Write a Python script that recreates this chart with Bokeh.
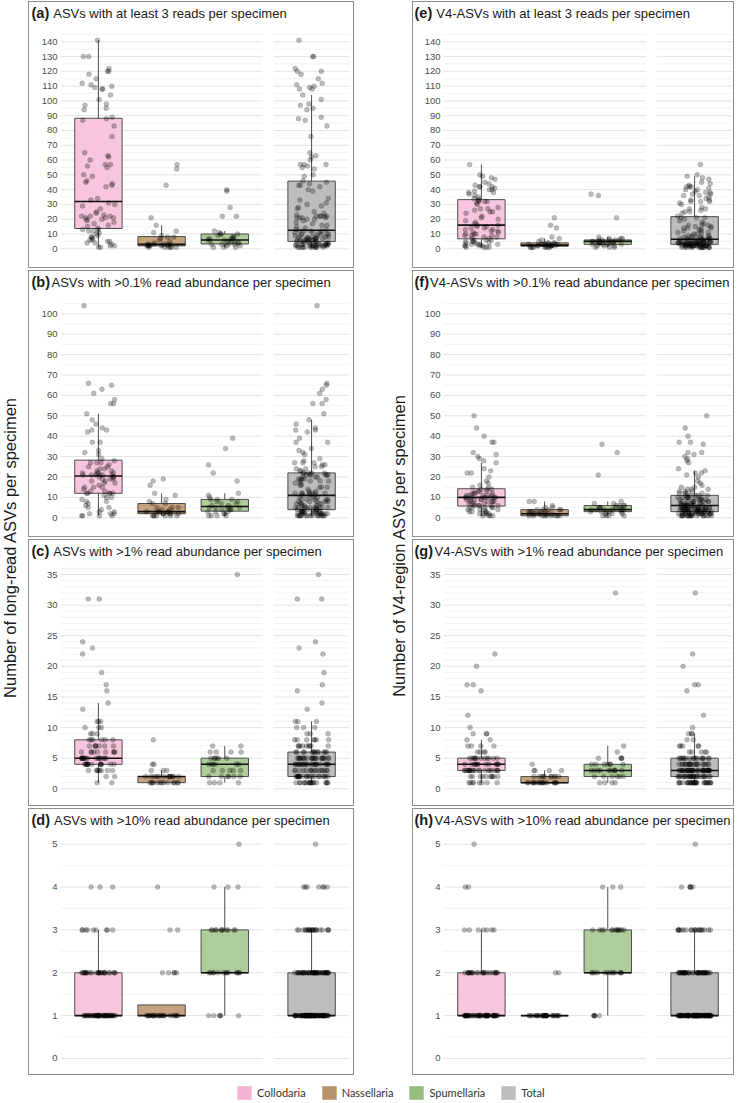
import numpy as np
from bokeh.plotting import figure
from bokeh.models import (ColumnDataSource, Range1d, FixedTicker, Label,
                          Legend, LegendItem, Spacer, Div)
from bokeh.layouts import row, column
from bokeh.transform import jitter
from bokeh.core.properties import value
from bokeh.embed import file_html
from bokeh.resources import INLINE

CATEGORIES = ["Collodaria", "Nassellaria", "Spumellaria", "Total"]

# ---------------- data (number of ASVs per specimen) ----------------
a_collodaria = [1, 1, 2, 2, 3, 4, 4, 5, 5, 6, 6, 7, 8, 8, 9, 10, 11, 12, 12, 13, 13,
                14, 15, 16, 17, 18, 19, 20, 20, 21, 21, 21, 22, 22, 22, 23, 24, 25, 27, 29, 30, 31,
                33, 34, 42, 43, 44, 45, 46, 49, 50, 55, 56, 57, 57, 60, 62, 63, 65, 76, 83, 87, 88,
                89, 94, 95, 97, 98, 101, 104, 108, 108, 109, 110, 111, 112, 115, 118, 120, 120, 122, 130, 130, 141]
a_nassellaria = [1, 1, 1, 1, 1, 1, 2, 2, 2, 2, 2, 2, 3, 3, 3, 3, 3, 3, 4, 5, 6, 7, 8, 8, 9, 11, 12, 16, 21, 43, 54, 57]
a_spumellaria = [1, 1, 1, 2, 2, 3, 3, 3, 3, 4, 4, 5, 5, 5, 6, 6, 6, 6, 7, 7, 7, 8, 8, 9, 10, 10, 10, 11, 12, 22, 22, 28, 39, 40]

b_collodaria = [1, 1, 1, 1, 2, 2, 2, 3, 3, 4, 5, 5, 6, 7, 8, 8, 9, 10, 10, 11, 12,
                12, 12, 12, 12, 13, 13, 14, 15, 15, 15, 16, 17, 17, 18, 18, 19, 19, 19, 20, 20, 20,
                21, 21, 21, 21, 21, 21, 22, 22, 22, 22, 23, 23, 24, 24, 25, 25, 26, 27, 27, 27, 28,
                29, 31, 32, 33, 37, 37, 42, 43, 43, 44, 46, 48, 51, 56, 56, 58, 61, 63, 65, 66, 104]
b_nassellaria = [1, 1, 1, 1, 1, 1, 1, 2, 2, 2, 2, 2, 3, 3, 3, 3, 3, 3, 4, 4, 5, 5, 5, 7, 7, 8, 9, 11, 12, 16, 18, 19]
b_spumellaria = [1, 1, 1, 1, 2, 2, 3, 3, 3, 4, 4, 4, 5, 5, 5, 5, 5, 6, 6, 7, 7, 8, 8, 9, 9, 9, 10, 11, 12, 18, 22, 26, 34, 39]

c_collodaria = [1, 1, 2, 2, 3, 3, 3, 3, 3, 3, 3, 3,
                4, 4, 4, 4, 4, 4, 4, 4, 4, 4, 4, 4, 4, 4,
                5, 5, 5, 5, 5, 5, 5, 5, 5, 5, 5, 5, 5, 5, 5, 5, 5,
                6, 6, 6, 6, 6, 6, 6, 6, 6, 7, 7, 7, 7, 7, 7, 7, 8, 8, 8, 8, 8, 8,
                9, 9, 9, 10, 10, 10, 11, 11, 11, 13, 14, 16, 17, 19, 22, 23, 24, 31, 31]
c_nassellaria = [1, 1, 1, 1, 1, 1, 1, 1, 1, 1, 1, 1, 1,
                 2, 2, 2, 2, 2, 2, 2, 2, 2, 2, 2, 2, 2, 3, 3, 3, 4, 4, 8]
c_spumellaria = [1, 1, 1, 1, 2, 2, 2, 2, 2, 2, 3, 3, 3, 3, 3, 4, 4, 4, 4, 4, 4,
                 5, 5, 5, 5, 5, 5, 6, 6, 6, 6, 7, 7, 35]

d_collodaria = [1, 1, 1, 1, 1, 1, 1, 1, 1, 1, 1, 1, 1, 1, 1, 1, 1, 1, 1, 1, 1, 1, 1,
                1, 1, 1, 1, 1, 1, 1, 1, 1, 1, 1, 1, 1, 1, 1, 1, 1, 1, 1, 1, 1, 1, 1,
                2, 2, 2, 2, 2, 2, 2, 2, 2, 2, 2, 2, 2, 2, 2, 2, 2, 2, 2, 2, 2, 2, 2, 2, 2, 2,
                3, 3, 3, 3, 3, 3, 3, 3, 3, 4, 4, 4]
d_nassellaria = [1, 1, 1, 1, 1, 1, 1, 1, 1, 1, 1, 1, 1, 1, 1, 1, 1, 1, 1, 1, 1, 1, 1, 1,
                 2, 2, 2, 2, 2, 3, 3, 4]
d_spumellaria = [1, 1, 1, 1, 1, 1, 2, 2, 2, 2, 2, 2, 2, 2, 2, 2, 2, 2, 2,
                 3, 3, 3, 3, 3, 3, 3, 3, 3, 3, 3, 4, 4, 4, 5]

e_collodaria = [1, 1, 1, 1, 2, 2, 2, 2, 3, 3, 3, 3, 4, 4, 4, 5, 5, 5, 6, 6, 6,
                7, 7, 8, 8, 9, 9, 9, 10, 10, 10, 11, 11, 12, 12, 13, 13, 14, 14, 15, 15, 16,
                16, 17, 18, 19, 20, 21, 22, 24, 25, 25, 26, 27, 27, 28, 30, 31, 32, 32, 32, 33, 33,
                34, 35, 36, 37, 38, 38, 39, 40, 40, 41, 42, 42, 42, 43, 44, 45, 47, 48, 49, 50, 57]
e_nassellaria = [1, 1, 1, 1, 1, 1, 1, 1, 2, 2, 2, 2, 2, 2, 2, 2, 3, 3, 3, 3, 3,
                 4, 4, 4, 4, 5, 6, 7, 8, 14, 16, 21]
e_spumellaria = [1, 1, 1, 2, 2, 2, 3, 3, 3, 3, 4, 4, 4, 4, 4, 4, 5, 5, 5, 5, 5, 5,
                 6, 6, 6, 6, 6, 7, 7, 7, 8, 21, 36, 37]

f_collodaria = [1, 1, 1, 1, 2, 2, 2, 2, 3, 3, 3, 3, 4, 4, 4, 4, 5, 5, 5, 5, 5,
                6, 6, 6, 6, 6, 7, 7, 7, 7, 8, 8, 8, 8, 8, 9, 9, 9, 9, 9, 10, 10,
                10, 10, 10, 10, 10, 10, 11, 11, 11, 11, 11, 12, 12, 12, 12, 13, 13, 13, 14, 14, 14,
                15, 15, 16, 17, 18, 20, 22, 22, 23, 24, 27, 28, 29, 30, 31, 32, 37, 37, 40, 44, 50]
f_nassellaria = [1, 1, 1, 1, 1, 1, 1, 1, 1, 2, 2, 2, 2, 2, 2, 2, 2, 3, 3, 3, 3, 3,
                 4, 4, 4, 4, 4, 5, 5, 6, 8, 8]
f_spumellaria = [1, 1, 1, 1, 2, 2, 2, 3, 3, 3, 3, 3, 4, 4, 4, 4, 4, 4, 4, 5, 5, 5, 5, 5,
                 6, 6, 6, 6, 7, 7, 8, 21, 32, 36]

g_collodaria = [1, 1, 1, 1, 1, 1, 1, 1, 2, 2, 2, 2, 2, 2, 2, 2, 2, 2,
                3, 3, 3, 3, 3, 3, 3, 3, 3, 3, 3, 3, 3, 3, 3, 3, 3, 3, 3, 3, 3,
                4, 4, 4, 4, 4, 4, 4, 4, 4, 4, 4, 4, 4,
                5, 5, 5, 5, 5, 5, 5, 5, 5, 5, 5, 5, 6, 6, 6, 6, 7, 7, 7, 7, 8, 8,
                9, 9, 9, 10, 12, 16, 17, 17, 20, 22]
g_nassellaria = [1, 1, 1, 1, 1, 1, 1, 1, 1, 1, 1, 1, 1, 1, 1, 1, 1,
                 2, 2, 2, 2, 2, 2, 2, 2, 2, 2, 3, 3, 3, 3, 4]
g_spumellaria = [1, 1, 1, 1, 2, 2, 2, 2, 2, 2, 3, 3, 3, 3, 3, 3, 3, 3, 3, 3,
                 4, 4, 4, 4, 4, 4, 4, 5, 5, 5, 5, 6, 7, 32]

h_collodaria = [1, 1, 1, 1, 1, 1, 1, 1, 1, 1, 1, 1, 1, 1, 1, 1, 1, 1, 1, 1, 1, 1, 1, 1, 1,
                1, 1, 1, 1, 1, 1, 1, 1, 1, 1, 1, 1, 1, 1, 1, 1, 1, 1, 1, 1, 1, 1, 1, 1, 1,
                2, 2, 2, 2, 2, 2, 2, 2, 2, 2, 2, 2, 2, 2, 2, 2, 2, 2, 2, 2, 2, 2, 2, 2,
                3, 3, 3, 3, 3, 3, 3, 4, 4, 5]
h_nassellaria = [1, 1, 1, 1, 1, 1, 1, 1, 1, 1, 1, 1, 1, 1, 1, 1, 1, 1, 1, 1, 1, 1, 1, 1, 1,
                 1, 1, 1, 1, 1, 2, 2]
h_spumellaria = [1, 1, 1, 1, 1, 2, 2, 2, 2, 2, 2, 2, 2, 2, 2, 2, 2, 2,
                 3, 3, 3, 3, 3, 3, 3, 3, 3, 3, 3, 3, 3, 4, 4, 4]

TICKS_140 = [0, 10, 20, 30, 40, 50, 60, 70, 80, 90, 100, 110, 120, 130, 140]
TICKS_100 = [0, 10, 20, 30, 40, 50, 60, 70, 80, 90, 100]
TICKS_35 = [0, 5, 10, 15, 20, 25, 30, 35]
TICKS_5 = [0, 1, 2, 3, 4, 5]

LEFT_LABEL = "Number of long-read ASVs per specimen"
RIGHT_LABEL = "Number of V4-region ASVs per specimen"

# tag, title, data, ticks, gap after tag (px)
PANELS_LEFT = [
    ("(a)", "ASVs with at least 3 reads per specimen", [a_collodaria, a_nassellaria, a_spumellaria], TICKS_140, 4.0),
    ("(b)", "ASVs with >0.1% read abundance per specimen", [b_collodaria, b_nassellaria, b_spumellaria], TICKS_100, 1.5),
    ("(c)", "ASVs with >1% read abundance per specimen", [c_collodaria, c_nassellaria, c_spumellaria], TICKS_35, 4.0),
    ("(d)", "ASVs with >10% read abundance per specimen", [d_collodaria, d_nassellaria, d_spumellaria], TICKS_5, 4.0),
]
PANELS_RIGHT = [
    ("(e)", "V4-ASVs with at least 3 reads per specimen", [e_collodaria, e_nassellaria, e_spumellaria], TICKS_140, 4.0),
    ("(f)", "V4-ASVs with >0.1% read abundance per specimen", [f_collodaria, f_nassellaria, f_spumellaria], TICKS_100, 1.0),
    ("(g)", "V4-ASVs with >1% read abundance per specimen", [g_collodaria, g_nassellaria, g_spumellaria], TICKS_35, 1.5),
    ("(h)", "V4-ASVs with >10% read abundance per specimen", [h_collodaria, h_nassellaria, h_spumellaria], TICKS_5, 1.5),
]

# ---------------- styling / layout ----------------
BOX_FILL = {"Collodaria": "#F7C5DD", "Nassellaria": "#C6A27F", "Spumellaria": "#AFCD9A", "Total": "#BDBDBD"}
LEG_FILL = {"Collodaria": "#F4B3D3", "Nassellaria": "#B7916B", "Spumellaria": "#97BD7E", "Total": "#BDBDBD"}
Y_SETUP = {140: ((-7.91, 151.0), 5), 100: ((-5.74, 109.46), 5), 35: ((-1.584, 36.8), 1), 5: ((-0.21, 5.273), 0.5)}

GAP = 0.174
POS = [1.0, 2.0, 3.0, 3.0 + 0.6 + GAP + 0.6]
FACETS = [(0.4, 3.6), (3.6 + GAP, 3.6 + GAP + 1.2)]
BOXW = 0.75

PANEL_H = 267
TITLE_H = 22
PLOT_H = PANEL_H - TITLE_H
FONT = "Liberation Sans"
OUTLINE = {"outline": "1.5px solid #8E8E8E", "outline-offset": "-1.5px"}


def blank_fig(w, h):
    f = figure(width=w, height=h, x_axis_location=None, y_axis_location=None,
               toolbar_location=None, output_backend="svg", min_border=0,
               outline_line_color=None, x_range=Range1d(0, 1), y_range=Range1d(0, 1),
               border_fill_alpha=0, background_fill_alpha=0)
    f.grid.visible = False
    return f


def make_panel(tag, title, groups, ticks, tgap, col):
    W, BL, BR, TX = (326, 32, 5, 3.5) if col == 0 else (322, 31, 2, 2.5)
    (ylo, yhi), mstep = Y_SETUP[ticks[-1]]

    html = ('<div style="font-family:\'Liberation Sans\',Arial,sans-serif;font-size:13px;'
            'color:#1A1A1A;white-space:nowrap;line-height:16px;margin:0;'
            f'padding-top:4.3px;padding-left:{TX}px">'
            f'<b style="font-size:14.5px;font-weight:bold">{tag}</b>'
            f'<span style="margin-left:{tgap}px">{title.replace(">", "&gt;")}</span></div>')
    tf = Div(text=html, width=W, height=TITLE_H, margin=0)

    p = figure(width=W, height=PLOT_H, x_range=Range1d(FACETS[0][0], FACETS[1][1]),
               y_range=Range1d(ylo, yhi), x_axis_location=None,
               toolbar_location=None, output_backend="svg",
               min_border_left=BL, min_border_right=BR, min_border_top=2, min_border_bottom=8,
               outline_line_color=None, border_fill_alpha=0, background_fill_alpha=0)
    p.grid.visible = False

    minor = [v for v in np.arange(mstep, ticks[-1] + mstep * 1.01, mstep) if v not in ticks and v < yhi]
    for vals, color, w in ((minor, "#F0F0F0", 0.8), (ticks, "#E4E4E4", 1.0)):
        x0, x1, yy = [], [], []
        for v in vals:
            for lo, hi in FACETS:
                x0.append(lo); x1.append(hi); yy.append(v)
        p.segment(x0=x0, y0=yy, x1=x1, y1=yy, line_color=color, line_width=w)

    all_groups = list(groups) + [sum(groups, [])]
    stats = dict(x=[], q1=[], med=[], q3=[], lo=[], hi=[], fill=[], xl=[], xr=[])
    pts = dict(x=[], v=[])
    for cat, pos, vals in zip(CATEGORIES, POS, all_groups):
        arr = np.array(vals, dtype=float)
        q1, med, q3 = np.percentile(arr, [25, 50, 75])
        iqr = q3 - q1
        hi = arr[arr <= q3 + 1.5 * iqr].max()
        lo = arr[arr >= q1 - 1.5 * iqr].min()
        stats["x"].append(pos); stats["q1"].append(q1); stats["med"].append(med)
        stats["q3"].append(q3); stats["lo"].append(lo); stats["hi"].append(hi)
        stats["fill"].append(BOX_FILL[cat])
        stats["xl"].append(pos - BOXW / 2); stats["xr"].append(pos + BOXW / 2)
        pts["x"] += [pos] * len(vals); pts["v"] += list(vals)
    s = ColumnDataSource(stats)
    p.segment(x0="x", y0="q3", x1="x", y1="hi", source=s, line_color="#4D4D4D", line_width=1)
    p.segment(x0="x", y0="q1", x1="x", y1="lo", source=s, line_color="#4D4D4D", line_width=1)
    p.vbar(x="x", width=BOXW, bottom="q1", top="q3", source=s, fill_color="fill",
           line_color="#4D4D4D", line_width=1)
    p.segment(x0="xl", y0="med", x1="xr", y1="med", source=s, line_color="#111111", line_width=1.6)
    p.scatter(x=jitter("x", width=0.54, distribution="uniform"), y="v", source=ColumnDataSource(pts),
              size=5, fill_color="black", fill_alpha=0.27, line_color="black", line_alpha=0.1)

    ax = p.yaxis[0]
    ax.ticker = FixedTicker(ticks=ticks, minor_ticks=[])
    ax.axis_line_color = None
    ax.major_tick_line_color = None
    ax.minor_tick_line_color = None
    ax.major_tick_out = 0
    ax.major_tick_in = 0
    ax.major_label_standoff = 3
    ax.major_label_text_font = FONT
    ax.major_label_text_font_size = "9.5px"
    ax.major_label_text_color = "#4D4D4D"

    return column(tf, p, spacing=0, styles=OUTLINE)


def label_fig(width, height, text, cx, cy):
    f = blank_fig(width, height)
    f.add_layout(Label(x=cx, y=height - cy, x_units="screen", y_units="screen", text=text,
                       angle=np.pi / 2, text_align="center", text_baseline="middle",
                       text_font=FONT, text_font_size="16.5px", text_color="#1A1A1A"))
    return f


def stack(panels, col, width):
    kids = [Spacer(width=width, height=1)]
    for i, (t, ti, g, tk, gp) in enumerate(panels):
        if i:
            kids.append(Spacer(width=width, height=2))
        kids.append(make_panel(t, ti, g, tk, gp, col))
    return column(*kids, spacing=0)


COL_H = 1 + 4 * PANEL_H + 3 * 2
left_col = stack(PANELS_LEFT, 0, 326)
right_col = stack(PANELS_RIGHT, 1, 322)
labL = label_fig(28, COL_H, LEFT_LABEL, 9, 547)
labR = label_fig(58, COL_H, RIGHT_LABEL, 44, 545)

leg = blank_fig(739, 1103 - COL_H)
items = []
for cat in CATEGORIES:
    r = leg.quad(left=[-3], right=[-2], top=[-2], bottom=[-3], fill_color=LEG_FILL[cat], line_color=None)
    items.append(LegendItem(label=value(cat), renderers=[r]))
legend = Legend(items=items, orientation="horizontal", location=(235, 2),
                glyph_width=18, glyph_height=17, label_height=17, label_standoff=4, spacing=14,
                padding=0, margin=0, border_line_color=None, background_fill_alpha=0,
                label_text_font="Lato", label_text_font_size="11px", label_text_color="#333333")
leg.add_layout(legend)

page = column(row(labL, left_col, labR, right_col, Spacer(width=5, height=COL_H), spacing=0), leg, spacing=0)
open("out.html", "w").write(file_html(page, INLINE))
